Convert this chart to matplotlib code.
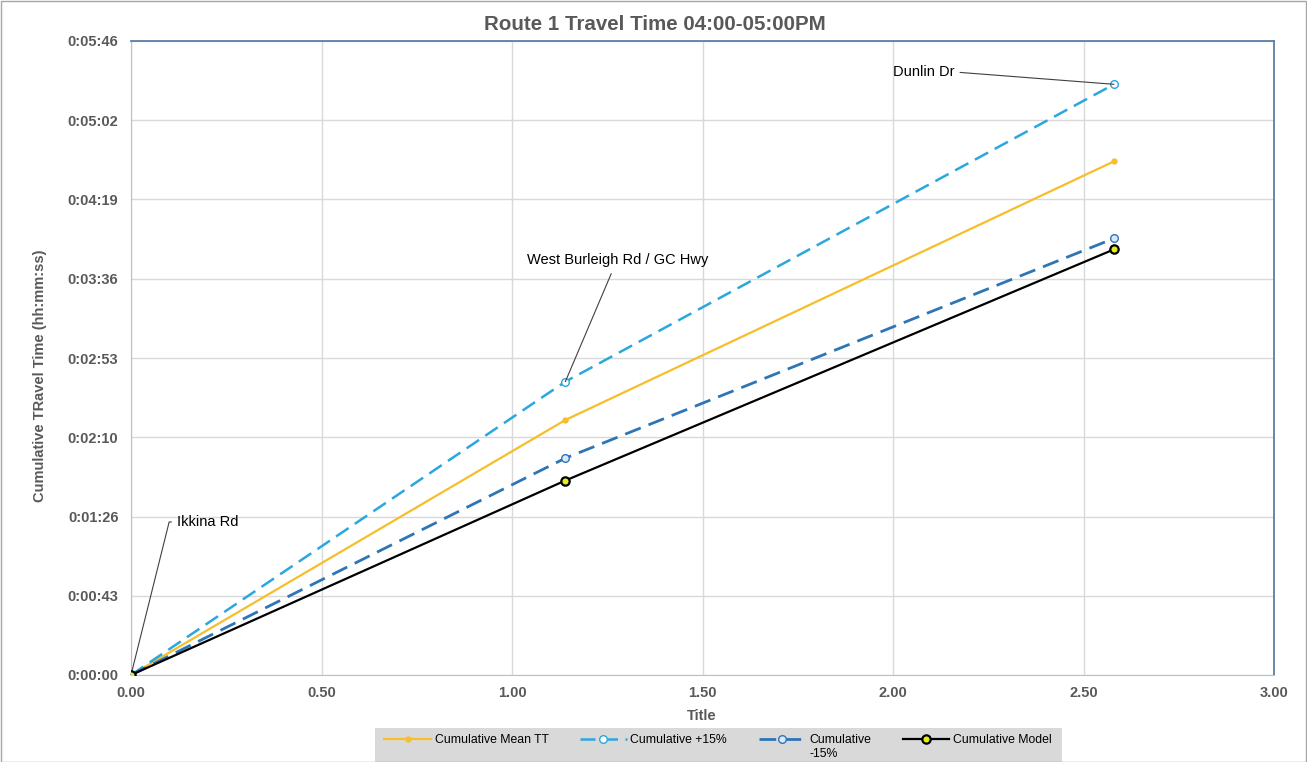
import matplotlib
matplotlib.use("Agg")
import matplotlib.pyplot as plt
from matplotlib.ticker import FixedLocator, FuncFormatter

plt.rcParams['font.family'] = ['Liberation Sans', 'DejaVu Sans']

# Distance along route (km) at each checkpoint
distance = [0.0, 1.14, 2.58]
checkpoints = ["Ikkina Rd", "West Burleigh Rd / GC Hwy", "Dunlin Dr"]

# Cumulative travel time (seconds)
mean_tt = [0, 139, 280]
plus15 = [0, 159.9, 322.0]
minus15 = [0, 118.2, 238.0]
model = [0, 106, 232]

# Axis ticks in seconds (Excel step of 0.0005 days)
y_ticks = [i * 43.2 for i in range(9)]
x_ticks = [0.0, 0.5, 1.0, 1.5, 2.0, 2.5, 3.0]


def hms(v, pos=None):
    s = int(round(v))
    return f"{s // 3600}:{(s % 3600) // 60:02d}:{s % 60:02d}"


W, H = 1307, 762
fig = plt.figure(figsize=(W / 100, H / 100), dpi=100)
ax = fig.add_axes([131 / W, 1 - 675 / H, (1274 - 131) / W, (675 - 41) / H])

# Outer chart border
fig.add_artist(plt.Rectangle((0.5 / W, 0.5 / H), 1 - 2 / W, 1 - 1 / H,
                             transform=fig.transFigure, fill=False,
                             edgecolor='#a6a6a6', linewidth=1))

c_mean = '#F7BE2A'
c_plus = '#2AA7DF'
c_minus = '#2E75B6'

ax.plot(distance, mean_tt, color=c_mean, lw=1.6, marker='o', ms=3.5,
        mfc=c_mean, mec=c_mean, label='Cumulative Mean TT', zorder=3)
ax.plot(distance, plus15, color=c_plus, lw=1.8, ls=(0, (6, 3)), marker='o',
        ms=5.5, mfc='white', mec=c_plus, mew=1, label='Cumulative +15%', zorder=3)
ax.plot(distance, minus15, color=c_minus, lw=2.0, ls=(0, (6, 3)), marker='o',
        ms=5.5, mfc='#dbe9f7', mec=c_minus, mew=1, label='Cumulative', zorder=3)
ax.plot(distance, model, color='black', lw=1.6, marker='o', ms=6,
        mfc='#E5EE1C', mec='black', mew=1.6, label='Cumulative Model', zorder=4)

ax.set_xlim(0, 3)
ax.set_ylim(0, y_ticks[-1])
ax.xaxis.set_major_locator(FixedLocator(x_ticks))
ax.xaxis.set_major_formatter(FuncFormatter(lambda v, p: f"{v:.2f}"))
ax.yaxis.set_major_locator(FixedLocator(y_ticks))
ax.yaxis.set_major_formatter(FuncFormatter(hms))
ax.grid(True, color='#d9d9d9', lw=1)
ax.set_axisbelow(True)
ax.tick_params(axis='y', length=0, pad=9, labelsize=10.5, labelcolor='#595959')
ax.tick_params(axis='x', length=0, pad=8, labelsize=10.5, labelcolor='#595959')
for lab in ax.get_xticklabels() + ax.get_yticklabels():
    lab.set_fontweight('bold')

for side in ('top', 'right'):
    ax.spines[side].set_color('#5b7fa6')
    ax.spines[side].set_linewidth(1.3)
ax.spines['left'].set_color('#bfbfbf')
ax.spines['bottom'].set_color('#bfbfbf')

fig.text(702 / W, 1 - 716 / H, 'Title', ha='center', va='center',
         fontsize=10.5, fontweight='bold', color='#595959')
fig.text(40 / W, 1 - 376 / H, 'Cumulative TRavel Time (hh:mm:ss)', ha='center',
         va='center', rotation=90, fontsize=10.5, fontweight='bold', color='#595959')
fig.text(655 / W, 1 - 25 / H, 'Route 1 Travel Time 04:00-05:00PM', ha='center',
         va='center', fontsize=14.8, fontweight='bold', color='#595959')

# Checkpoint callouts
ax.annotate(checkpoints[0], xy=(distance[0], plus15[0]), xytext=(177, H - 522),
            textcoords='figure pixels', fontsize=10.5, color='black',
            va='center', ha='left', annotation_clip=False,
            arrowprops=dict(arrowstyle='-', color='#404040', lw=0.8,
                            connectionstyle='angle,angleA=180,angleB=76,rad=0',
                            relpos=(0, 0.5), shrinkA=2, shrinkB=0))
ax.annotate(checkpoints[1], xy=(distance[1], plus15[1]), xytext=(527, H - 260),
            textcoords='figure pixels', fontsize=10.5, color='black',
            va='center', ha='left',
            arrowprops=dict(arrowstyle='-', color='#404040', lw=0.8,
                            relpos=(0.48, 0), shrinkA=3, shrinkB=0))
ax.annotate(checkpoints[2], xy=(distance[2], plus15[2]), xytext=(893, H - 72),
            textcoords='figure pixels', fontsize=10.5, color='black',
            va='center', ha='left',
            arrowprops=dict(arrowstyle='-', color='#404040', lw=0.8,
                            relpos=(1, 0.5), shrinkA=2, shrinkB=0))

# Legend panel: grey band running off the bottom edge
fig.add_artist(plt.Rectangle((375 / W, 0), (1062 - 375) / W, (H - 728) / H,
                             transform=fig.transFigure, facecolor='#d9d9d9',
                             edgecolor='none', zorder=0))
leg = fig.legend(loc='center', bbox_to_anchor=(718 / W, 1 - 740 / H), ncol=4,
                 fontsize=8.8, frameon=False, handlelength=3.8, handletextpad=0.3,
                 columnspacing=2.6, borderpad=0, borderaxespad=0)

# Second line of the wrapped "-15%" entry
fig.canvas.draw()
minus_txt = leg.get_texts()[2]
bb = minus_txt.get_window_extent()
fig.text(bb.x0 / W, (bb.y0 - 8) / H, '-15%', ha='left', va='center',
         fontsize=8.8, color='black')

fig.savefig('out.png', dpi=100)
